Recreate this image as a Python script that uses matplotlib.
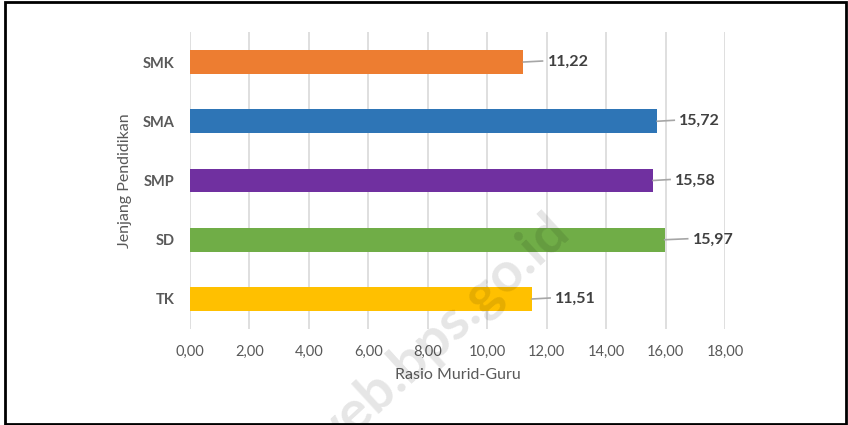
import matplotlib
matplotlib.use("Agg")
import matplotlib.pyplot as plt
from matplotlib.patches import Rectangle
from matplotlib.lines import Line2D
import matplotlib.transforms as mtransforms

categories = ["TK", "SD", "SMP", "SMA", "SMK"]
values = [11.51, 15.97, 15.58, 15.72, 11.22]
value_labels = ["11,51", "15,97", "15,58", "15,72", "11,22"]
colors = ["#FFC000", "#70AD47", "#7030A0", "#2E75B6", "#ED7D31"]
xticks = [0, 2, 4, 6, 8, 10, 12, 14, 16, 18]
xtick_labels = ["0,00", "2,00", "4,00", "6,00", "8,00", "10,00", "12,00", "14,00", "16,00", "18,00"]
x_title = "Rasio Murid-Guru"
y_title = "Jenjang Pendidikan"
watermark = "web.bps.go.id"

plt.rcParams['font.family'] = ['Lato', 'DejaVu Sans']

W, H = 848, 425
fig = plt.figure(figsize=(W / 100, H / 100), dpi=100)
ax = fig.add_axes([190 / W, 1 - 328.6 / H, (725 - 190) / W, (328.6 - 32.4) / H])

ypos = list(range(len(categories)))
ax.barh(ypos, values, height=0.40, color=colors, zorder=2)
ax.set_xlim(0, 18)
ax.set_ylim(-0.5, len(categories) - 0.5)
ax.set_xticks(xticks)
ax.set_xticklabels(xtick_labels, fontsize=10.5, color="#595959")
ax.set_yticks(ypos)
ax.set_yticklabels(categories, fontsize=10.5, color="#595959", fontweight="bold")
ax.tick_params(axis="both", length=0)
ax.tick_params(axis="x", pad=12)
ax.tick_params(axis="y", pad=11)
ax.grid(axis="x", color="#D9D9D9", linewidth=1.2, zorder=0)
for s in ax.spines.values():
    s.set_visible(False)

ax.set_xlabel(x_title, fontsize=11.5, color="#595959", labelpad=6)
ax.set_ylabel(y_title, fontsize=11.5, color="#595959", labelpad=8)

# data labels with leader lines (offsets in pixels)
text_offsets = [23, 28, 22, 22, 24]
for y, v, lab, off in zip(ypos, values, value_labels, text_offsets):
    trans = ax.transData + mtransforms.ScaledTranslation(off / 100, 0, fig.dpi_scale_trans)
    ax.text(v, y, lab, transform=trans, ha="left", va="center", fontsize=11.5,
            fontweight="bold", color="#404040", zorder=4)
    x0 = ax.transData.transform((v, y))
    disp = [(x0[0], x0[1]), (x0[0] + off - 5, x0[1] + 1)]
    fx = [fig.transFigure.inverted().transform(p) for p in disp]
    fig.add_artist(Line2D([fx[0][0], fx[1][0]], [fx[0][1], fx[1][1]],
                          transform=fig.transFigure, color="#A6A6A6", linewidth=1.2, zorder=3))

# watermark
fig.text(561 / W, 1 - 224 / H, watermark, rotation=42.5, rotation_mode="anchor",
         ha="right", va="center", fontsize=40, fontweight="bold",
         color="black", alpha=0.10, zorder=10)

# figure border
fig.add_artist(Rectangle((5 / W, 1 / H), (846 - 5) / W, (423 - 1) / H,
                         transform=fig.transFigure, fill=False, edgecolor="black",
                         linewidth=2, zorder=20))

fig.savefig("out.png", dpi=100)
